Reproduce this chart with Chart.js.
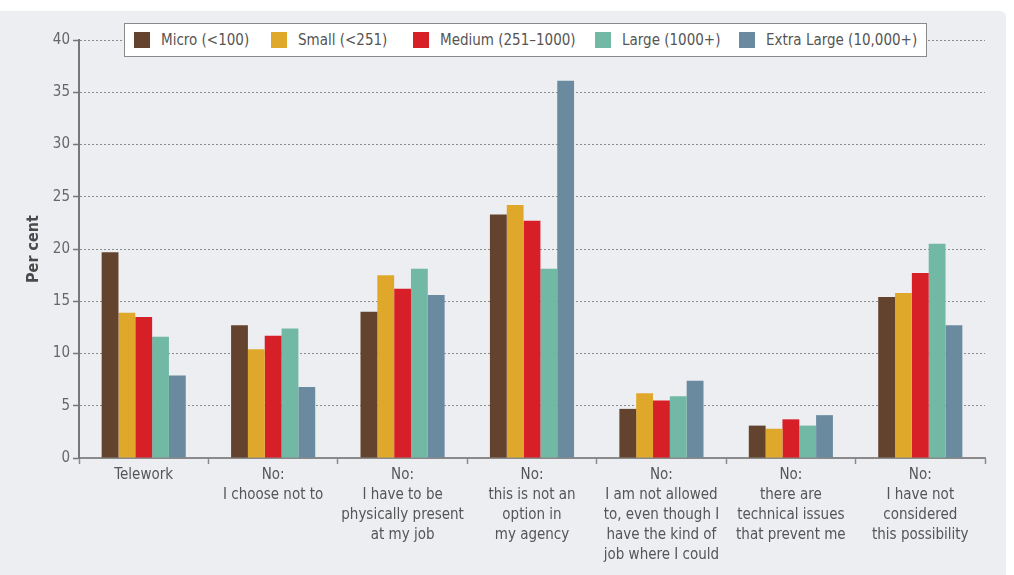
<!DOCTYPE html>
<html>
<head>
<meta charset="utf-8">
<script src="https://cdn.jsdelivr.net/npm/chart.js@4/dist/chart.umd.min.js"></script>
<style>
  html, body { margin: 0; padding: 0; background: #fff; }
  #panel { position: absolute; left: 0; top: 11px; width: 1006px; height: 564px;
           background: #eceef2; border-top-right-radius: 6px; }
  #wrap { position: absolute; left: 0; top: 0; width: 1014px; height: 575px; }
  #legend { position: absolute; left: 124px; top: 23px; width: 803px; height: 34px;
            background: #fff; border: 1px solid #8a8a8a; box-sizing: border-box;
            font-family: "Liberation Sans Narrow", "DejaVu Sans Condensed", sans-serif;
            font-size: 15px; color: #555; }
  .item { position: absolute; top: 7px; height: 18px; line-height: 18px; white-space: nowrap; }
  .sw { display: inline-block; width: 16px; height: 16px; vertical-align: top; margin-top: 1px; margin-right: 11px; }
</style>
</head>
<body>
<div id="panel"></div>
<div id="wrap"><canvas id="chart" width="1014" height="575"></canvas></div>
<div id="legend"></div>
<script>
const categories = [
    ['Telework'],
    ['No:', 'I choose not to'],
    ['No:', 'I have to be', 'physically present', 'at my job'],
    ['No:', 'this is not an', 'option in', 'my agency'],
    ['No:', 'I am not allowed', 'to, even though I', 'have the kind of', 'job where I could'],
    ['No:', 'there are', 'technical issues', 'that prevent me'],
    ['No:', 'I have not', 'considered', 'this possibility']
];
const seriesNames = ['Micro (<100)', 'Small (<251)', 'Medium (251\u20131000)', 'Large (1000+)', 'Extra Large (10,000+)'];
const seriesColors = ['#63432e', '#e0a82b', '#d71f27', '#72b9a5', '#6a8aa0'];
const micro  = [19.7, 12.7, 14.0, 23.3, 4.7, 3.1, 15.4];
const small  = [13.9, 10.4, 17.5, 24.2, 6.2, 2.8, 15.8];
const medium = [13.5, 11.7, 16.2, 22.7, 5.5, 3.7, 17.7];
const large  = [11.6, 12.4, 18.1, 18.1, 5.9, 3.1, 20.5];
const xlarge = [7.9, 6.8, 15.6, 36.1, 7.4, 4.1, 12.7];
const yTicks = [0, 5, 10, 15, 20, 25, 30, 35, 40];

const seriesData = [micro, small, medium, large, xlarge];
const FONT = '"Liberation Sans Narrow", "DejaVu Sans Condensed", sans-serif';

// legend drawn as html box over the plot, like the original
const legendLeft = [9, 146, 288, 470, 614];
const legend = document.getElementById('legend');
seriesNames.forEach((name, i) => {
    const d = document.createElement('div');
    d.className = 'item';
    d.style.left = legendLeft[i] + 'px';
    d.innerHTML = '<span class="sw" style="background:' + seriesColors[i] + '"></span>';
    d.appendChild(document.createTextNode(name));
    legend.appendChild(d);
});

const ctx = document.getElementById('chart').getContext('2d');
new Chart(ctx, {
    type: 'bar',
    data: {
        labels: categories,
        datasets: seriesData.map((values, i) => ({
            label: seriesNames[i],
            data: values,
            backgroundColor: seriesColors[i],
            borderWidth: 0,
            categoryPercentage: 0.65,
            barPercentage: 1.0
        }))
    },
    options: {
        responsive: false,
        animation: false,
        layout: { padding: { top: 40, right: 29, left: 0, bottom: 0 } },
        plugins: {
            legend: { display: false },
            tooltip: { enabled: false }
        },
        scales: {
            x: {
                offset: true,
                afterFit: (scale) => { scale.height = 117; },
                grid: {
                    offset: true,
                    drawOnChartArea: false,
                    drawTicks: true,
                    tickLength: 6,
                    tickColor: '#8a8a8a',
                    tickWidth: 1.5
                },
                border: { color: '#8a8a8a', width: 2 },
                ticks: {
                    color: '#555',
                    font: { family: FONT, size: 15, lineHeight: 1.34 },
                    padding: 1,
                    maxRotation: 0,
                    autoSkip: false
                }
            },
            y: {
                min: 0,
                max: 40,
                afterFit: (scale) => { scale.width = 79; },
                afterBuildTicks: (scale) => { scale.ticks = yTicks.map(v => ({ value: v })); },
                title: {
                    display: true,
                    text: 'Per cent',
                    color: '#4a4a4a',
                    font: { family: FONT, size: 16, weight: 'bold' },
                    padding: { top: 24, bottom: 0 }
                },
                grid: {
                    color: '#8c8c8c',
                    lineWidth: 1,
                    tickBorderDash: [],
                    tickColor: '#777',
                    tickLength: 6,
                    tickWidth: 1.5
                },
                // in v4 the grid line dash comes from border.dash
                border: { color: '#777', width: 2, dash: [2, 2] },
                ticks: {
                    color: '#666',
                    font: { family: FONT, size: 15 },
                    padding: 3
                }
            }
        }
    }
});
</script>
</body>
</html>
